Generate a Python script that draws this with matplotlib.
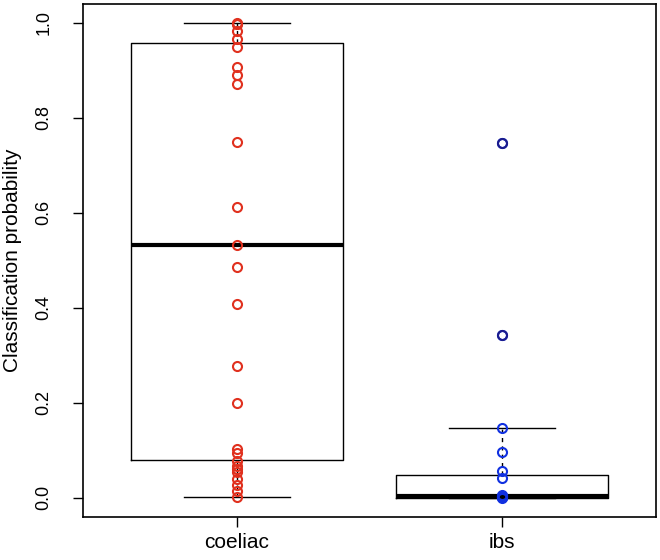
import matplotlib
matplotlib.use("Agg")
import matplotlib.pyplot as plt

plt.rcParams['font.family'] = ['Liberation Sans', 'DejaVu Sans']

grupos = ["coeliac", "ibs"]

# probabilidades
prob_coeliac = [1.0, 0.998, 0.997, 0.983, 0.967, 0.949, 0.908, 0.890, 0.871,
                0.750, 0.612, 0.532, 0.486, 0.407, 0.277, 0.200, 0.103,
                0.094, 0.078, 0.066, 0.061, 0.055, 0.039, 0.027, 0.015, 0.002]
prob_ibs = [0.747, 0.342, 0.147, 0.097, 0.057, 0.041,
            0.005, 0.004, 0.003, 0.002, 0.002, 0.001, 0.001, 0.0]

# estatisticas das caixas
whis_baixo = [0.002, 0.0]
quartil_1 = [0.080, 0.0]
mediana = [0.533, 0.003]
quartil_3 = [0.958, 0.048]
whis_alto = [1.0, 0.147]
outliers = [[], [0.747, 0.342]]

cores = ["#e0301e", "#1030e0"]

fig = plt.figure(figsize=(6.6, 5.6), dpi=100)
ax = fig.add_axes([0.126, 0.0773, 0.868, 0.9157])

stats = []
for i in range(len(grupos)):
    stats.append({
        "label": grupos[i],
        "whislo": whis_baixo[i],
        "q1": quartil_1[i],
        "med": mediana[i],
        "q3": quartil_3[i],
        "whishi": whis_alto[i],
        "fliers": outliers[i],
    })

caixas = ax.bxp(stats, positions=[1, 2], widths=0.8,
                boxprops=dict(color="black", linewidth=1.0),
                medianprops=dict(color="black", linewidth=3.0, solid_capstyle="butt"),
                whiskerprops=dict(color="black", linewidth=1.0, linestyle=(0, (3, 3))),
                capprops=dict(color="black", linewidth=1.0),
                capwidths=0.4,
                flierprops=dict(marker="o", markerfacecolor="none", markeredgecolor="#1c1c8c",
                                markersize=6.5, markeredgewidth=1.5))
for f in caixas["fliers"]:
    f.set_zorder(4)

dados = [prob_coeliac, prob_ibs]
for i in range(len(grupos)):
    ax.plot([i + 1] * len(dados[i]), dados[i], linestyle="none", marker="o",
            markerfacecolor="none", markeredgecolor=cores[i],
            markersize=6.5, markeredgewidth=1.5, zorder=3)

ax.set_xlim(0.42, 2.58)
ax.set_ylim(-0.04, 1.04)
ax.set_xticks([1, 2])
ax.set_xticklabels(grupos, fontsize=15)
ax.set_yticks([0.0, 0.2, 0.4, 0.6, 0.8, 1.0])
ax.set_yticklabels(["0.0", "0.2", "0.4", "0.6", "0.8", "1.0"], rotation=90,
                   va="center", fontsize=13)
ax.tick_params(axis="x", length=7, width=1.0, pad=5)
ax.tick_params(axis="y", length=7, width=1.0, pad=15)
ax.set_ylabel("Classification probability", fontsize=15)
ax.yaxis.set_label_coords(-0.106, 0.5)
for lado in ax.spines.values():
    lado.set_linewidth(1.2)

fig.savefig("out.png", dpi=100)
